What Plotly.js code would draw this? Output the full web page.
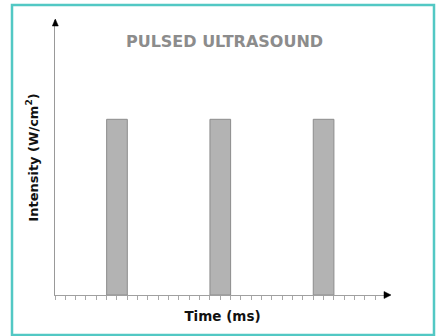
<!DOCTYPE html>
<html>
<head>
<meta charset="utf-8">
<script src="https://cdn.plot.ly/plotly-3.0.1.min.js"></script>
<style>html,body{margin:0;padding:0;background:#fff;}#chart{width:436px;height:336px;}</style>
</head>
<body>
<div id="chart"></div>
<script>
// Data
const pulseCenters = [6, 16, 26];      // time (ms) at pulse centre
const pulseWidths = [2, 2, 2];         // pulse duration (ms)
const pulseIntensity = [1, 1, 1];      // intensity (arbitrary units)
const timeTicks = [0,1,2,3,4,5,6,7,8,9,10,11,12,13,14,15,16,17,18,19,20,21,22,23,24,25,26,27,28,29,30,31];
const chartTitle = 'PULSED ULTRASOUND';
const xTitle = 'Time (ms)';
const yTitle = 'Intensity (W/cm<sup style="font-size:8px">2</sup>)';

const W = 436, H = 336;
const M = {l: 55, r: 46, t: 20, b: 41};
const pw = W - M.l - M.r, ph = H - M.t - M.b;
const px = v => (v - M.l) / pw;
const py = v => (H - M.b - v) / ph;

const FONT = '"DejaVu Sans", Verdana, sans-serif';

const trace = {
  type: 'bar',
  x: pulseCenters,
  y: pulseIntensity,
  width: pulseWidths,
  marker: {color: '#b3b3b3', line: {color: '#8c8c8c', width: 1}},
  hoverinfo: 'none'
};

const layout = {
  width: W, height: H,
  margin: M,
  paper_bgcolor: '#ffffff',
  plot_bgcolor: '#ffffff',
  showlegend: false,
  title: {
    text: chartTitle,
    font: {family: FONT, size: 16, color: '#8c8c8c', weight: 'bold'},
    x: 224.5 / W, xanchor: 'center',
    y: 1 - 41 / H, yanchor: 'middle', yref: 'container'
  },
  xaxis: {
    range: [0, pw / 10.33],
    showgrid: false, zeroline: false,
    showline: true, linecolor: '#a0a0a0', linewidth: 1,
    tickmode: 'array', tickvals: timeTicks,
    ticks: 'outside', ticklen: 4, tickcolor: '#a8a8a8', tickwidth: 1,
    showticklabels: false,
    fixedrange: true,
    title: {text: xTitle, font: {family: FONT, size: 13.5, color: '#111', weight: 'bold'}, standoff: 12}
  },
  yaxis: {
    range: [0, ph / (295 - 119.3)],
    showgrid: false, zeroline: false,
    showline: true, linecolor: '#999999', linewidth: 1,
    ticks: '', showticklabels: false,
    fixedrange: true,
    title: {text: yTitle, font: {family: FONT, size: 13, color: '#111', weight: 'bold'}, standoff: 12}
  },
  shapes: [
    {type: 'rect', xref: 'paper', yref: 'paper', x0: px(12), x1: px(434), y0: py(335), y1: py(5),
     line: {color: '#52c8c4', width: 2.5}, fillcolor: 'rgba(0,0,0,0)', layer: 'above'},
    {type: 'path', xref: 'paper', yref: 'paper',
     path: `M ${px(384)},${py(291.5)} L ${px(391)},${py(295)} L ${px(384)},${py(298.5)} Z`,
     fillcolor: '#000', line: {color: '#000', width: 0.5}},
    {type: 'path', xref: 'paper', yref: 'paper',
     path: `M ${px(52.3)},${py(26)} L ${px(55.3)},${py(19)} L ${px(58.3)},${py(26)} Z`,
     fillcolor: '#000', line: {color: '#000', width: 0.5}}
  ]
};

Plotly.newPlot('chart', [trace], layout, {displayModeBar: false, staticPlot: true});
</script>
</body>
</html>
